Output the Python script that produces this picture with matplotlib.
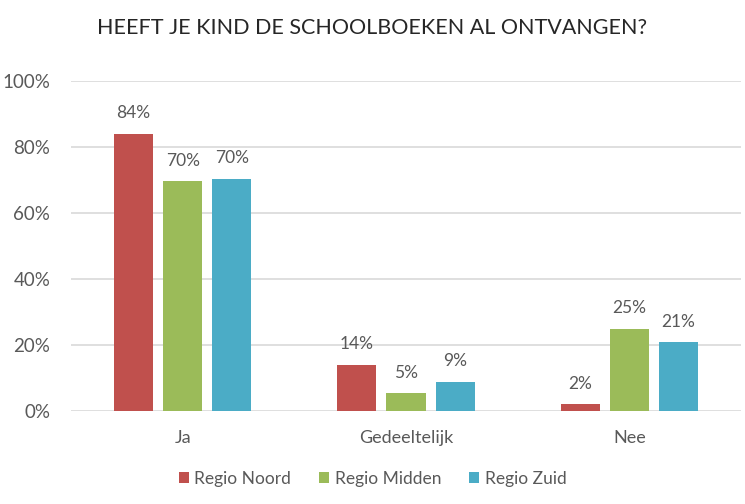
import numpy as np
import matplotlib.pyplot as plt

plt.rcParams['font.family'] = ['Lato', 'DejaVu Sans']

categorieen = ["Ja", "Gedeeltelijk", "Nee"]
regios = ["Regio Noord", "Regio Midden", "Regio Zuid"]
noord = [84, 14, 2]
midden = [69.6, 5.4, 25]
zuid = [70.4, 8.8, 20.8]
kleuren = ["#C0504D", "#9BBB59", "#4BACC6"]
yticks = [0, 20, 40, 60, 80, 100]

grijs = "#595959"

fig = plt.figure(figsize=(7.45, 5.04), dpi=100)
ax = fig.add_axes([0.0953, 0.1845, 0.8993, 0.6548])

x = np.arange(len(categorieen))
breedte = 0.175
stap = 0.22

for i, (reeks, naam) in enumerate(zip([noord, midden, zuid], regios)):
    pos = x + (i - 1) * stap
    bars = ax.bar(pos, reeks, breedte, color=kleuren[i], label=naam, zorder=3)
    for b, v in zip(bars, reeks):
        ax.annotate("{:.0f}%".format(v), (b.get_x() + b.get_width() / 2, v),
                    xytext=(0, 9), textcoords="offset points",
                    ha="center", va="bottom", fontsize=12.5, color=grijs)

ax.set_xlim(-0.5, 2.5)
ax.set_ylim(0, 100)
ax.set_yticks(yticks)
ax.set_yticklabels([str(t) + "%" for t in yticks])
ax.set_xticks(x)
ax.set_xticklabels(categorieen)
ax.tick_params(axis="y", length=0, pad=15, labelsize=13.5, labelcolor=grijs)
ax.tick_params(axis="x", length=0, pad=14, labelsize=13, labelcolor=grijs)
ax.grid(axis="y", color="#D9D9D9", linewidth=1.2, zorder=0)
for s in ax.spines.values():
    s.set_visible(False)

fig.text(0.5, 0.944, "HEEFT JE KIND DE SCHOOLBOEKEN AL ONTVANGEN?",
         ha="center", va="center", fontsize=15.5, color="#262626")

fig.legend(loc="center", bbox_to_anchor=(0.5, 0.05), ncol=3, frameon=False,
           fontsize=12.5, labelcolor=grijs, handlelength=0.6, handleheight=0.6,
           handletextpad=0.3, columnspacing=1.6)

plt.savefig("out.png", dpi=100)
